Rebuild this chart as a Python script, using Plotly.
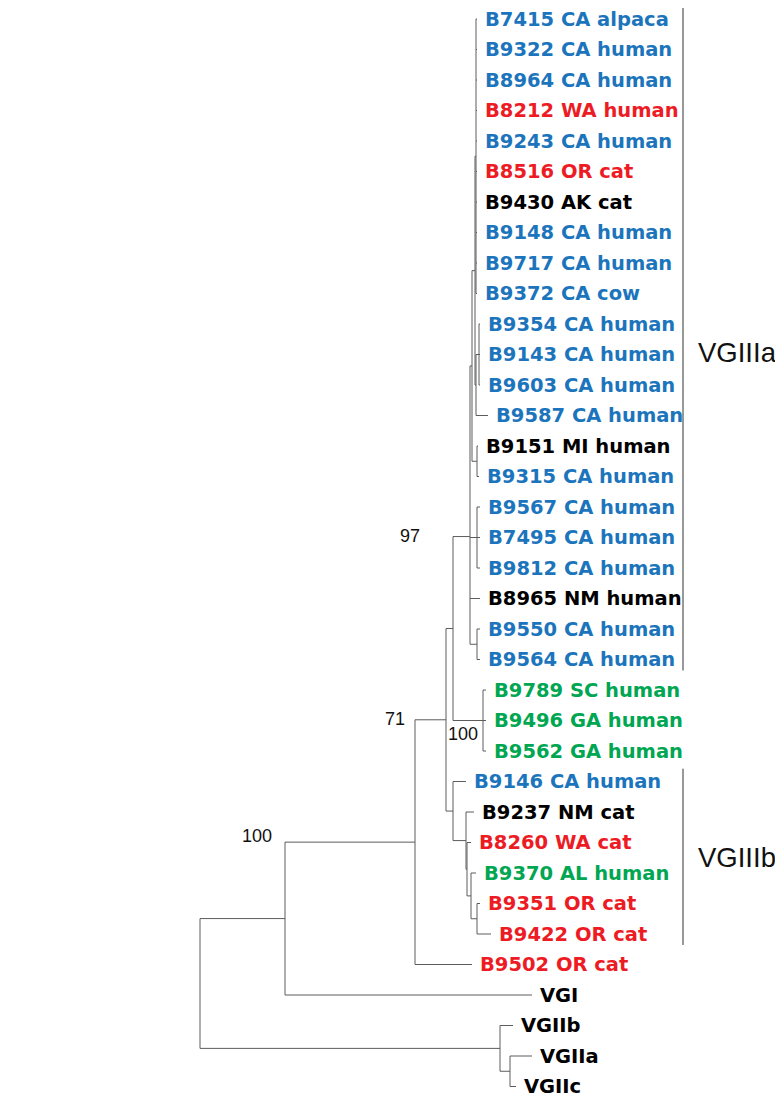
import plotly.graph_objects as go

# ---------------- data ----------------
# leaves, top to bottom
leaf_labels = [
    "B7415 CA alpaca", "B9322 CA human", "B8964 CA human", "B8212 WA human",
    "B9243 CA human", "B8516 OR cat", "B9430 AK cat", "B9148 CA human",
    "B9717 CA human", "B9372 CA cow", "B9354 CA human", "B9143 CA human",
    "B9603 CA human", "B9587 CA human", "B9151 MI human", "B9315 CA human",
    "B9567 CA human", "B7495 CA human", "B9812 CA human", "B8965 NM human",
    "B9550 CA human", "B9564 CA human", "B9789 SC human", "B9496 GA human",
    "B9562 GA human", "B9146 CA human", "B9237 NM cat", "B8260 WA cat",
    "B9370 AL human", "B9351 OR cat", "B9422 OR cat", "B9502 OR cat",
    "VGI", "VGIIb", "VGIIa", "VGIIc",
]
leaf_groups = [
    "CA", "CA", "CA", "PNW", "CA", "PNW", "other", "CA",
    "CA", "CA", "CA", "CA", "CA", "CA", "other", "CA",
    "CA", "CA", "CA", "other", "CA", "CA", "SE", "SE",
    "SE", "CA", "other", "PNW", "SE", "PNW", "PNW", "PNW",
    "other", "other", "other", "other",
]
leaf_parents = [
    "nTopA", "nTopA", "nTopA", "nTopA", "nTopA", "nTopA", "nTopA", "nTopA",
    "nTopA", "nTopA", "n3", "n3", "n3", "nS", "n9151", "n9151",
    "n3b", "n3b", "n3b", "nIIIa", "n2", "n2", "nG", "nG",
    "nG", "nB", "nC", "nC2", "nD", "nE", "nE", "n71",
    "n100", "nVGII", "nVGIIac", "nVGIIac",
]
leaf_lengths = [
    1, 1, 1, 1, 1, 1, 1, 1,
    1, 1, 1, 1, 1, 12, 1, 2,
    3, 3, 3, 10, 3, 3, 3, 3,
    3, 13, 8, 4, 5, 3, 14, 57,
    247, 13, 22, 6,
]

# internal nodes
node_names = ["root", "n100", "nVGII", "nVGIIac", "n71", "nA", "n97", "nIIIa",
              "nU", "nTop", "nTopA", "nS", "n3", "n9151", "n3b", "n2", "nG",
              "nB", "nC", "nC2", "nD", "nE"]
node_parents = [None, "root", "root", "nVGII", "n100", "n71", "nA", "n97",
                "nIIIa", "nU", "nTop", "nTop", "nS", "nU", "nIIIa", "nIIIa", "n97",
                "nA", "nB", "nC", "nC2", "nD"]
node_lengths = [0, 85, 300, 10, 130, 31, 7, 17,
                2, 3, 1, 1, 3, 5, 7, 7, 30,
                7, 13, 1, 4, 6]

# bootstrap support: (node, value)
boot_nodes = ["n71", "nA", "nIIIa", "nG"]
boot_values = ["100", "71", "97", "100"]

# clades: (name, first leaf, last leaf)
clade_names = ["VGIIIa", "VGIIIb"]
clade_first = [0, 25]
clade_last = [21, 30]

# ---------------- styles ----------------
group_colors = {"CA": "#1c75bc", "PNW": "#ed1c24", "SE": "#00a651", "other": "#000000"}
line_color = "#5c5c5c"
ROOT_X = 200
LEAF_GAP = 30.5     # px per leaf row
TOP_PAD = 19        # px (page) to first leaf
W, H = 783, 1102    # browser window
BODY = 8            # default page body margin
FW, FH = W - BODY, H - BODY

# ---------------- tree layout ----------------
parent = dict(zip(node_names, node_parents))
length = dict(zip(node_names, node_lengths))
for lab, p, l in zip(leaf_labels, leaf_parents, leaf_lengths):
    parent[lab] = p
    length[lab] = l

children = {}
for n, p in parent.items():
    if p is not None:
        children.setdefault(p, []).append(n)

xpos = {}
def set_x(n):
    if n in xpos:
        return xpos[n]
    p = parent[n]
    xpos[n] = ROOT_X if p is None else set_x(p) + length[n]
    return xpos[n]
for n in parent:
    set_x(n)

ypos = {lab: i for i, lab in enumerate(leaf_labels)}
def set_y(n):
    if n in ypos:
        return ypos[n]
    ys = [set_y(c) for c in children[n]]
    ypos[n] = sum(ys) / len(ys)
    return ypos[n]
set_y("root")

xs, ys = [], []
for n, p in parent.items():
    if p is not None:
        xs += [xpos[p], xpos[n], None]
        ys += [ypos[n], ypos[n], None]
for n in node_names:
    cy = [ypos[c] for c in children[n]]
    xs += [xpos[n], xpos[n], None]
    ys += [min(cy), max(cy), None]

fig = go.Figure()
fig.add_trace(go.Scatter(x=xs, y=ys, mode="lines",
                         line=dict(color=line_color, width=1),
                         hoverinfo="skip", showlegend=False))

annotations = []
for lab, g in zip(leaf_labels, leaf_groups):
    annotations.append(dict(
        x=xpos[lab], y=ypos[lab], text=lab, showarrow=False,
        xanchor="left", yanchor="middle", xshift=6,
        font=dict(family="DejaVu Sans", size=19.5, color=group_colors[g], weight="bold"),
    ))

boot_style = {
    "n71": dict(xanchor="right", xshift=-11, yshift=6),
    "nA": dict(xanchor="right", xshift=-8, yshift=1),
    "nIIIa": dict(xanchor="right", xshift=-31, yshift=1),
    "nG": dict(xanchor="left", xshift=-7, yshift=-13),
}
for n, v in zip(boot_nodes, boot_values):
    s = boot_style[n]
    annotations.append(dict(
        x=xpos[parent[n]], y=ypos[n], text=v, showarrow=False,
        xanchor=s["xanchor"], yanchor="middle", xshift=s["xshift"], yshift=s["yshift"],
        font=dict(family="Liberation Sans", size=18, color="#111111"),
    ))

BAR_X = 683
label_shift = {"VGIIIa": -13, "VGIIIb": 0}
for name, a, b in zip(clade_names, clade_first, clade_last):
    fig.add_shape(type="line", x0=BAR_X, x1=BAR_X, y0=a - 0.42, y1=b + 0.36,
                  line=dict(color="#333333", width=1))
    annotations.append(dict(
        x=BAR_X, y=(a + b) / 2, text=name, showarrow=False,
        xanchor="left", yanchor="middle", xshift=13, yshift=label_shift[name],
        font=dict(family="Liberation Sans", size=27.5, color="#111111"),
    ))

fig.update_layout(
    width=FW, height=FH, margin=dict(l=0, r=0, t=0, b=0),
    paper_bgcolor="white", plot_bgcolor="white",
    xaxis=dict(range=[BODY, W], visible=False, fixedrange=True),
    yaxis=dict(range=[(H - TOP_PAD) / LEAF_GAP, -(TOP_PAD - BODY) / LEAF_GAP],
               visible=False, fixedrange=True),
    annotations=annotations,
    showlegend=False,
)

fig.write_html("out.html")
